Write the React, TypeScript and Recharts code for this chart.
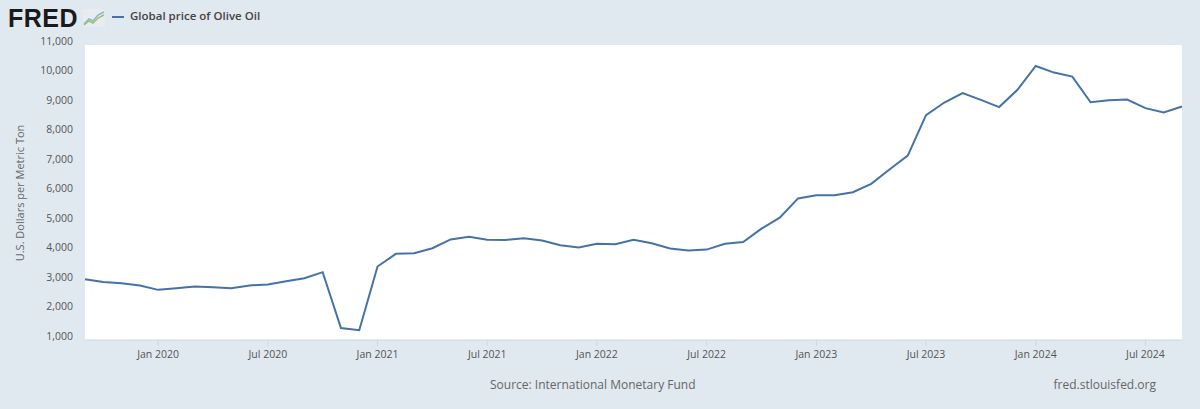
import * as React from 'react';
import { LineChart, Line, XAxis, YAxis, CartesianGrid } from 'recharts';

// monthly, Sep 2019 .. Sep 2024
const months = [
  'Sep 2019', 'Oct 2019', 'Nov 2019', 'Dec 2019',
  'Jan 2020', 'Feb 2020', 'Mar 2020', 'Apr 2020', 'May 2020', 'Jun 2020', 'Jul 2020', 'Aug 2020', 'Sep 2020', 'Oct 2020', 'Nov 2020', 'Dec 2020',
  'Jan 2021', 'Feb 2021', 'Mar 2021', 'Apr 2021', 'May 2021', 'Jun 2021', 'Jul 2021', 'Aug 2021', 'Sep 2021', 'Oct 2021', 'Nov 2021', 'Dec 2021',
  'Jan 2022', 'Feb 2022', 'Mar 2022', 'Apr 2022', 'May 2022', 'Jun 2022', 'Jul 2022', 'Aug 2022', 'Sep 2022', 'Oct 2022', 'Nov 2022', 'Dec 2022',
  'Jan 2023', 'Feb 2023', 'Mar 2023', 'Apr 2023', 'May 2023', 'Jun 2023', 'Jul 2023', 'Aug 2023', 'Sep 2023', 'Oct 2023', 'Nov 2023', 'Dec 2023',
  'Jan 2024', 'Feb 2024', 'Mar 2024', 'Apr 2024', 'May 2024', 'Jun 2024', 'Jul 2024', 'Aug 2024', 'Sep 2024',
];

const oliveOil = [
  3060, 2970, 2925, 2850,
  2700, 2755, 2815, 2790, 2755, 2850, 2880, 2990, 3095, 3300, 1405, 1330,
  3490, 3920, 3940, 4110, 4410, 4500, 4400, 4390, 4445, 4370, 4210, 4140,
  4265, 4245, 4400, 4280, 4100, 4030, 4065, 4260, 4320, 4775, 5145, 5800,
  5910, 5910, 6010, 6295, 6780, 7250, 8625, 9050, 9370, 9140, 8895, 9480,
  10290, 10065, 9930, 9060, 9130, 9150, 8860, 8715, 8915,
];

const yTicks = [1000, 2000, 3000, 4000, 5000, 6000, 7000, 8000, 9000, 10000, 11000];
const xTickLabels = ['Jan 2020', 'Jul 2020', 'Jan 2021', 'Jul 2021', 'Jan 2022', 'Jul 2022', 'Jan 2023', 'Jul 2023', 'Jan 2024', 'Jul 2024'];

const data = months.map((m, i) => ({ idx: i, month: m, value: oliveOil[i] }));
const xTicks = xTickLabels.map((l) => months.indexOf(l));

const FONT = '"Open Sans", "Noto Sans", Arial, sans-serif';
const BG = '#e1e9f0';
const LINE = '#4572a7';

const fmt = (v: number) => v.toLocaleString('en-US');

export default function App() {
  return (
    <div style={{ position: 'absolute', left: 0, top: 0, width: 1200, height: 409, background: BG, fontFamily: FONT }}>
      {/* header */}
      <div style={{ position: 'absolute', left: 8, top: 4, fontFamily: 'Arial, "Liberation Sans", sans-serif', fontWeight: 900, fontSize: 25, letterSpacing: 0.5, color: '#1a1a1a', lineHeight: '28px' }}>
        FRED
      </div>
      <svg style={{ position: 'absolute', left: 83, top: 9 }} width={22} height={18}>
        <rect x={0} y={0} width={22} height={18} fill="#e8ecef" />
        <polyline points="1,15 6,10 10,12 15,6 21,3" fill="none" stroke="#8fb3d0" strokeWidth={1.5} />
        <polyline points="1,16 6,12 10,14 15,9 21,6" fill="none" stroke="#9cc26b" strokeWidth={1.5} />
      </svg>
      <div style={{ position: 'absolute', left: 112, top: 16, width: 12, height: 2, background: LINE }} />
      <div style={{ position: 'absolute', left: 130, top: 8, fontSize: 11.5, fontWeight: 600, color: '#444' }}>
        Global price of Olive Oil
      </div>

      {/* y-axis title */}
      <div style={{ position: 'absolute', left: 19, top: 193, transform: 'translate(-50%, -50%) rotate(-90deg)', whiteSpace: 'nowrap', fontSize: 11, color: '#666' }}>
        U.S. Dollars per Metric Ton
      </div>

      <div style={{ position: 'absolute', left: 0, top: 0 }}>
        <LineChart width={1200} height={409} data={data} margin={{ top: 45, right: 18, bottom: 39, left: 0 }}>
          <rect x={85} y={45} width={1097} height={295} fill="#ffffff" />
          <CartesianGrid vertical={false} stroke="#e6e6e6" strokeWidth={1} />
          <XAxis
            dataKey="idx"
            type="number"
            domain={[0, months.length - 1]}
            ticks={xTicks}
            tickFormatter={(v: number) => months[v]}
            axisLine={{ stroke: '#ccd6eb' }}
            tickLine={{ stroke: '#ccd6eb' }}
            tickSize={6}
            tickMargin={5}
            tick={{ fontSize: 10.5, fill: '#555', fontFamily: FONT }}
            height={30}
          />
          <YAxis
            type="number"
            domain={[1000, 11000]}
            ticks={yTicks}
            tickFormatter={fmt}
            axisLine={false}
            tickLine={false}
            tickSize={0}
            tickMargin={12}
            width={85}
            tick={{ fontSize: 10.5, fill: '#555', fontFamily: FONT, dy: -4 }}
          />
          <Line
            type="linear"
            dataKey="value"
            stroke={LINE}
            strokeWidth={2}
            dot={false}
            isAnimationActive={false}
          />
        </LineChart>
      </div>

      {/* footer */}
      <div style={{ position: 'absolute', left: 490, top: 376, fontSize: 12, color: '#666' }}>
        Source: International Monetary Fund
      </div>
      <div style={{ position: 'absolute', right: 44, top: 376, fontSize: 12, color: '#666' }}>
        fred.stlouisfed.org
      </div>
    </div>
  );
}
